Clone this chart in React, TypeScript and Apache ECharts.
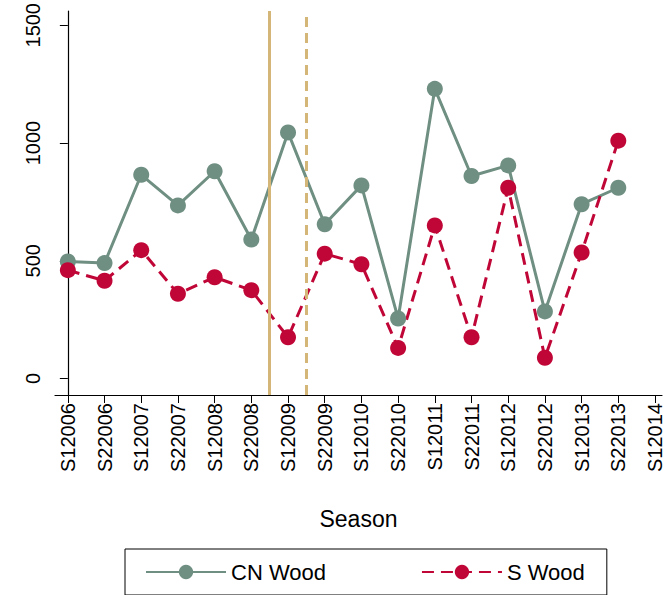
import { useEffect, useRef } from 'react';
import * as echarts from 'echarts';

const seasons = ['S12006', 'S22006', 'S12007', 'S22007', 'S12008', 'S22008', 'S12009', 'S22009',
  'S12010', 'S22010', 'S12011', 'S22011', 'S12012', 'S22012', 'S12013', 'S22013', 'S12014'];
const cnWood = [497, 490, 865, 735, 880, 590, 1045, 655, 820, 255, 1230, 860, 905, 285, 740, 810];
const sWood = [460, 415, 545, 360, 430, 375, 175, 530, 485, 130, 650, 175, 810, 88, 535, 1010];
const yTicks = [0, 500, 1000, 1500];
const breaks = [5.5, 6.5];

const font = 'Liberation Sans, Arial, sans-serif';

const App = () => {
  const chartRef = useRef<HTMLDivElement>(null);

  useEffect(() => {
    if (!chartRef.current) return;
    const chart = echarts.init(chartRef.current, undefined, { renderer: 'svg' });

    chart.setOption({
      animation: false,
      backgroundColor: '#fff',
      grid: { left: 55, right: 0, top: 8, bottom: 200 },
      xAxis: {
        type: 'value',
        min: -0.35,
        max: 16.19,
        name: 'Season',
        nameLocation: 'middle',
        nameGap: 112,
        nameTextStyle: { fontSize: 23, color: '#000', fontFamily: font },
        axisLine: { onZero: false, lineStyle: { color: '#000', width: 1.2 } },
        axisTick: { length: 8, lineStyle: { color: '#000' }, customValues: seasons.map((_, i) => i) },
        axisLabel: {
          customValues: seasons.map((_, i) => i),
          rotate: 90,
          fontSize: 20,
          color: '#000',
          fontFamily: font,
          formatter: (v: number) => seasons[Math.round(v)] ?? '',
        },
        splitLine: { show: false },
      },
      yAxis: {
        type: 'value',
        min: -70,
        max: 1560,
        axisLine: { show: true, lineStyle: { color: '#000', width: 1.2 } },
        axisTick: { show: true, length: 8, lineStyle: { color: '#000' }, customValues: yTicks },
        axisLabel: {
          customValues: yTicks,
          rotate: 90,
          fontSize: 20,
          color: '#000',
          fontFamily: font,
          margin: 12,
          formatter: (v: number) => String(v),
        },
        splitLine: { show: false },
      },
      legend: {
        left: 125,
        bottom: 0,
        itemGap: 95,
        itemWidth: 80,
        itemHeight: 18,
        padding: [12, 22, 12, 20],
        borderColor: '#000',
        borderWidth: 1,
        textStyle: { fontSize: 22, color: '#000', fontFamily: font },
        data: ['CN Wood', 'S Wood'],
      },
      series: [
        {
          name: 'CN Wood',
          type: 'line',
          data: cnWood.map((v, i) => [i, v]),
          symbol: 'circle',
          symbolSize: 16,
          color: '#6f8f82',
          lineStyle: { width: 3 },
          markLine: {
            silent: true,
            symbol: 'none',
            label: { show: false },
            data: [
              { xAxis: breaks[0], lineStyle: { color: '#d4b679', width: 3, type: 'solid' } },
              { xAxis: breaks[1], lineStyle: { color: '#d4b679', width: 3, type: [10, 6] } },
            ],
          },
        },
        {
          name: 'S Wood',
          type: 'line',
          data: sWood.map((v, i) => [i, v]),
          symbol: 'circle',
          symbolSize: 16,
          color: '#c00637',
          lineStyle: { width: 3, type: [12, 7] },
        },
      ],
    });

    return () => chart.dispose();
  }, []);

  return <div ref={chartRef} style={{ width: 665, height: 595, position: 'absolute', left: 0, top: 0 }} />;
};

export default App;
